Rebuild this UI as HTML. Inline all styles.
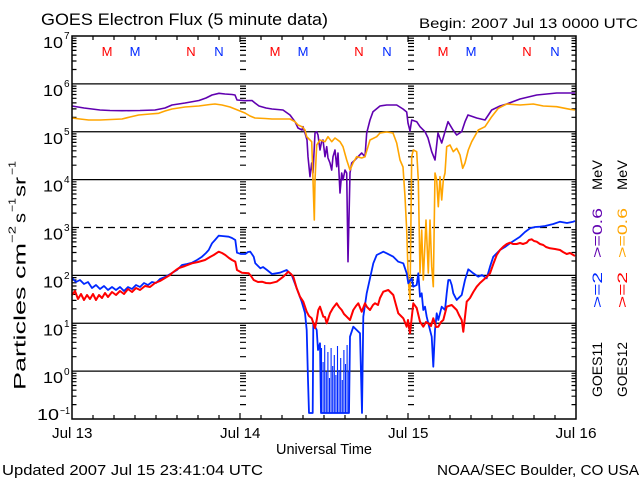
<!DOCTYPE html>
<html><head><meta charset="utf-8"><style>
html,body{margin:0;padding:0;background:#fff;}
svg{display:block;}
text{font-family:"Liberation Sans",sans-serif;fill:#000;}
</style></head><body>
<svg width="640" height="480" viewBox="0 0 640 480" xmlns="http://www.w3.org/2000/svg">
<defs>
<path id="mt" d="M0 404.6h1M0 396.2h1M0 390.2h1M0 385.5h1M0 381.7h1M0 378.5h1M0 375.8h1M0 373.3h1M0 356.7h1M0 348.3h1M0 342.3h1M0 337.7h1M0 333.9h1M0 330.7h1M0 327.9h1M0 325.4h1M0 308.8h1M0 300.4h1M0 294.4h1M0 289.8h1M0 286h1M0 282.8h1M0 280h1M0 277.6h1M0 261h1M0 252.5h1M0 246.6h1M0 241.9h1M0 238.1h1M0 234.9h1M0 232.1h1M0 229.7h1M0 213.1h1M0 204.7h1M0 198.7h1M0 194h1M0 190.2h1M0 187h1M0 184.3h1M0 181.8h1M0 165.2h1M0 156.8h1M0 150.8h1M0 146.2h1M0 142.4h1M0 139.2h1M0 136.4h1M0 133.9h1M0 117.3h1M0 108.9h1M0 102.9h1M0 98.3h1M0 94.5h1M0 91.3h1M0 88.5h1M0 86.1h1M0 69.5h1M0 61h1M0 55.1h1M0 50.4h1M0 46.6h1M0 43.4h1M0 40.6h1M0 38.2h1" stroke="#000" stroke-width="1.2" fill="none"/>
</defs>
<rect width="640" height="480" fill="#fff"/>

<!-- titles -->
<text x="41" y="25" font-size="17" textLength="287" lengthAdjust="spacingAndGlyphs">GOES Electron Flux (5 minute data)</text>
<text x="419" y="28" font-size="14" textLength="219" lengthAdjust="spacingAndGlyphs">Begin: 2007 Jul 13 0000 UTC</text>

<!-- grid lines -->
<g stroke="#000" stroke-width="1.3" fill="none">
<path d="M72 83.9H576M72 131.75H576M72 179.6H576M72 275.4H576M72 323.25H576M72 371.1H576"/>
<path d="M72 227.5H576" stroke-dasharray="7 5"/>
</g>

<!-- minor ticks -->
<use href="#mt" transform="translate(72,0) scale(4.5,1)"/>
<use href="#mt" transform="translate(571.5,0) scale(4.5,1)"/>
<use href="#mt" transform="translate(240,0) scale(6,1)"/>
<use href="#mt" transform="translate(408,0) scale(6,1)"/>

<g stroke="#000" stroke-width="1.2" fill="none">
<path d="M93 36v4M114 36v4M135 36v4M156 36v4M177 36v4M198 36v4M219 36v4M261 36v4M282 36v4M303 36v4M324 36v4M345 36v4M366 36v4M387 36v4M429 36v4M450 36v4M471 36v4M492 36v4M513 36v4M534 36v4M555 36v4"/>
<path d="M93 419v-4M114 419v-4M135 419v-4M156 419v-4M177 419v-4M198 419v-4M219 419v-4M261 419v-4M282 419v-4M303 419v-4M324 419v-4M345 419v-4M366 419v-4M387 419v-4M429 419v-4M450 419v-4M471 419v-4M492 419v-4M513 419v-4M534 419v-4M555 419v-4"/>
<path d="M240 36v6M240 419v-6M408 36v6M408 419v-6"/>
</g>

<!-- M / N markers -->
<g font-size="13" text-anchor="middle">
<text x="107" y="56" style="fill:#ff0000">M</text>
<text x="135" y="56" style="fill:#0028ff">M</text>
<text x="191" y="56" style="fill:#ff0000">N</text>
<text x="219" y="56" style="fill:#0028ff">N</text>
<text x="275" y="56" style="fill:#ff0000">M</text>
<text x="303" y="56" style="fill:#0028ff">M</text>
<text x="359" y="56" style="fill:#ff0000">N</text>
<text x="387" y="56" style="fill:#0028ff">N</text>
<text x="443" y="56" style="fill:#ff0000">M</text>
<text x="471" y="56" style="fill:#0028ff">M</text>
<text x="527" y="56" style="fill:#ff0000">N</text>
<text x="555" y="56" style="fill:#0028ff">N</text>
</g>

<!-- data -->
<g fill="none" stroke-linejoin="round">
<polyline stroke="#6000b0" stroke-width="1.6" points="72,106 78,107 84,108 92,109 100,110 110,110.5 122,110.7 140,110.5 155,110 165,108 172,105 185,103 199,100.5 206,98 212,95 219,93.3 225,94 232,94.5 235,95 237,100 245,100.7 252,100.5 255,103 259,106 266,108 272,109 283,110 290,115 295,121.7 298,128 302,130 303,126.7 305,133 307,140 308,156.7 310,176.7 311.7,163 313,173 315,133 316.7,131.7 318,135 320,150 321.5,142 323,140 325,156.7 326.7,146.7 328,158 330,163 331.7,170 333,156.7 335,150 336.7,166.7 338,153 340,193 341.7,173 343,180 345,170 346.7,173 348,261.7 350,173 351.7,163 355,160 358,156.7 361.7,153 365,156.7 366.7,133 370,120 373,111.7 380,106 386.7,105 396.7,105 403,109 406.7,112 408,123 410,131 411.7,120 416.7,121.7 420,126.7 425,131.7 428,138 431.7,151.7 435,160 438,133 441.7,143 445,131.7 448,121.7 453,130 456.7,135 461.7,131.7 465,121.7 468,115 476.7,118 485,120 491.7,110 500,106 506.7,104 520,99 536.7,95 556.7,93 575,93"/>
<polyline stroke="#ffa500" stroke-width="1.6" points="72,118 80,119 88.7,120 100,120 122,119 130,117 138.7,115 150,114 158.7,113.3 165,111 172,109 185,107 198.7,106 210,104.5 215,104 222,105 230,107 235,109 240,111 245,113 250,116 255,118 265,118.5 272,119 290,119 295,121.7 298,125 302,126.7 305,130 306.7,136.7 308,138 311.7,141.7 313,180 314.3,220 315,180 316.7,145 320,140 325,141.7 328,136.7 331.7,141.7 335,138 340,141.7 343,146.7 346.7,160 350,170 353,163 356.7,156.7 361.7,158 365,156.7 368,146.7 370,140 376.7,136.7 380,133 386.7,132 393,133 396.7,143 400,160 403,167 405,196.7 406.7,230 408.3,280 410,300 411.7,156.7 413.3,150 416.7,151.7 418.3,180 420,273 421.7,230 423.3,280 426,220 428.3,273 430,220 431.7,266.7 433.3,286.7 435,173 436.7,180 438.3,206.7 440,176.7 441.7,200 443.3,180 445,173 446.7,146.7 450,145 453.3,151.7 456.7,148.3 460,155 462.7,168.3 465,163 468.3,150 471.7,141.7 478.3,130 485,126.7 491.7,116.7 498.3,108.3 506.7,104 520,105 533.3,104 543.3,106 556.7,106.7 570,109.3 575,110"/>
<polyline stroke="#0028ff" stroke-width="1.8" points="72,278 76,282 80,280 84,284 88,282 92,288 96,285 100,289 104,286 108,290 112,287 116,290 120,287 124,291 128,287 132,289 136,285 140,287 144,283 148,285 152,282 156,283 160,279 165,277 172,273 177,270 182,265 187,264 192,262.7 197,260 202,256.7 206,253 208.7,250 212,243.3 215,240 218.7,235.7 222,236 228.7,236.7 232,238 235.3,240 237,252.7 241,254 245.3,254 248,252 250.3,251.7 253.7,256.7 255.3,263.3 260.3,268.3 263,267 267,270 272,274 280,272.7 286.7,270 291.7,275 296.7,288.3 301.7,301.7 305,313 306.7,330 308,380 309,413 312.7,413 313.3,323.3 316.7,330 318,350 320,343.3 321,413 349,413 350,336.7 353.3,326.7 356.7,330 360,333.3 362,413 363.3,316.7 366.7,293.3 370,278.3 373.3,263.3 376.7,255 383.3,251.7 386.7,253.3 393.3,256.7 398.3,261.7 403.3,263.3 406.7,273.3 408.3,283.3 411.7,278.3 413.3,286.7 416.7,285 418.3,273.3 420,296.7 421.7,293.3 423.3,310 425,306.7 426.7,316.7 428.3,323.3 430,330 431.7,336.7 433.3,366.7 435,330 436.7,313.3 438.3,320 441.7,306.7 445,310 446.7,293.3 448.3,280 450,280 451.7,285 453.3,293.3 455,296.7 456.7,300 458.3,298.3 461.7,295 465,280 468.3,269.3 473.3,273.3 478.3,276.7 482,275 486.7,278.3 490,266.7 493.3,256.7 500,250 505,247 510,243.3 515,240 520,236.7 525,232 530,228.3 535,227 540,226.7 545,226 553.3,224 560,221.7 567,223 573.3,221.7 575,221"/>
<path stroke="#0028ff" stroke-width="1.1" d="M321.5 413V348M323.1 413V362M324.7 413V345M326.3 413V372M327.9 413V352M329.5 413V378M331.1 413V348M332.7 413V366M334.3 413V355M335.9 413V375M337.5 413V346M339.1 413V370M340.7 413V358M342.3 413V380M343.9 413V350M345.5 413V364M347.1 413V345M348.7 413V372"/>
<polyline stroke="#ff0000" stroke-width="2" points="72,295 75,291 78,299 81,294 84,300 87,295 90,299 93,294 96,300 99,295 102,298 105,293 108,297 112,292 116,295 120,291 124,294 128,289 132,292 136,288 140,290 145,286 150,287 155,283 160,281 165,278 170,275 172,273 176,270 179,268 185,266 192,263.3 198,262 205,260 210,257 213.7,255 218.7,251.7 222,253 225.3,255 229,258 232,260 235.3,261.7 237,270 242,272.7 248.7,273.3 251,276 253.7,280 258,282 262,281.7 266,283 270,283.3 276.7,281.7 283.3,276.7 288.3,271.7 291,274 293.3,276.7 296.7,288.3 300,296.7 303.3,301.7 306.7,311.7 309,316 311.7,318.3 313,322 315,328 316.7,320 318.3,310 320,306.7 323.3,316.7 325,317 326.7,323.3 330,313.3 333,308 336.7,303.3 339,307 341.7,310 344,314 346.7,316.7 350,320 353.3,310 356,306 358.3,303.3 361.7,311.7 365,303.3 367,307 370,310 373,305 375,303.3 378,305 380,298 383.3,291.7 388.3,290 393.3,295 396,305 398.3,313.3 401,316 403.3,318.3 406.7,326.7 408,320 410,333.3 413.3,303.3 416.7,308 420,321.7 423.3,326.7 426,322 428.3,323.3 431,326 433.3,318.3 436,327 438.3,326.7 441,322 443.3,320 446.7,306.7 451.7,305 456.7,310 459,315 461.7,320 463.3,331.7 466.7,301.7 470,298 473.3,292 476.7,286.7 480,283 483.3,280 486.7,277 490,273.3 493.3,264 496.7,255 500,250 503.3,246.7 506.7,244 510,242.7 513,244 516.7,244 520,243 523,244 526.7,242.7 529,240 531.7,239.3 534,241 536.7,241.7 540,244 543.3,245 546,247 550,248.3 555,249 560,250 563,252 566.7,254 570,253 573.3,255 575,256"/>
</g>

<!-- frame -->
<rect x="72" y="36" width="504" height="383" fill="none" stroke="#000" stroke-width="1.5"/>

<!-- y labels -->
<g font-size="16">
<text x="43" y="48" textLength="20" lengthAdjust="spacingAndGlyphs">10</text>
<text x="43" y="95.9" textLength="20" lengthAdjust="spacingAndGlyphs">10</text>
<text x="43" y="143.75" textLength="20" lengthAdjust="spacingAndGlyphs">10</text>
<text x="43" y="191.6" textLength="20" lengthAdjust="spacingAndGlyphs">10</text>
<text x="43" y="239.5" textLength="20" lengthAdjust="spacingAndGlyphs">10</text>
<text x="43" y="287.4" textLength="20" lengthAdjust="spacingAndGlyphs">10</text>
<text x="43" y="335.25" textLength="20" lengthAdjust="spacingAndGlyphs">10</text>
<text x="43" y="383.1" textLength="20" lengthAdjust="spacingAndGlyphs">10</text>
<text x="37" y="420" textLength="22" lengthAdjust="spacingAndGlyphs">10</text>
</g>
<g font-size="10">
<text x="64" y="39">7</text>
<text x="64" y="87">6</text>
<text x="64" y="135">5</text>
<text x="64" y="183">4</text>
<text x="64" y="231">3</text>
<text x="64" y="279">2</text>
<text x="64" y="327">1</text>
<text x="64" y="375">0</text>
<text x="60" y="414" textLength="10" lengthAdjust="spacingAndGlyphs">−1</text>
</g>

<!-- y axis title -->
<text transform="translate(25.5,390) rotate(-90)" font-size="17" textLength="147" lengthAdjust="spacingAndGlyphs">Particles cm</text>
<text transform="translate(15.5,243) rotate(-90)" font-size="10" textLength="17" lengthAdjust="spacingAndGlyphs">−2</text>
<text transform="translate(25.5,223) rotate(-90)" font-size="17" textLength="10" lengthAdjust="spacingAndGlyphs">s</text>
<text transform="translate(15.5,212) rotate(-90)" font-size="10" textLength="14" lengthAdjust="spacingAndGlyphs">−1</text>
<text transform="translate(25.5,197) rotate(-90)" font-size="17" textLength="20" lengthAdjust="spacingAndGlyphs">sr</text>
<text transform="translate(15.5,175) rotate(-90)" font-size="10" textLength="14" lengthAdjust="spacingAndGlyphs">−1</text>

<!-- right labels -->
<g font-size="14">
<text transform="translate(602,397) rotate(-90)" textLength="55" lengthAdjust="spacingAndGlyphs">GOES11</text>
<text transform="translate(602,308) rotate(-90)" textLength="36" lengthAdjust="spacingAndGlyphs" style="fill:#0028ff">&gt;=2</text>
<text transform="translate(602,258) rotate(-90)" textLength="50" lengthAdjust="spacingAndGlyphs" style="fill:#6000b0">&gt;=0.6</text>
<text transform="translate(602,190) rotate(-90)" textLength="30" lengthAdjust="spacingAndGlyphs">MeV</text>
<text transform="translate(627,397) rotate(-90)" textLength="55" lengthAdjust="spacingAndGlyphs">GOES12</text>
<text transform="translate(627,308) rotate(-90)" textLength="36" lengthAdjust="spacingAndGlyphs" style="fill:#ff0000">&gt;=2</text>
<text transform="translate(627,258) rotate(-90)" textLength="50" lengthAdjust="spacingAndGlyphs" style="fill:#ffa500">&gt;=0.6</text>
<text transform="translate(627,190) rotate(-90)" textLength="30" lengthAdjust="spacingAndGlyphs">MeV</text>
</g>

<!-- x labels -->
<g font-size="14.5">
<text x="52" y="438" textLength="40.5" lengthAdjust="spacingAndGlyphs">Jul 13</text>
<text x="220" y="438" textLength="40.5" lengthAdjust="spacingAndGlyphs">Jul 14</text>
<text x="388" y="438" textLength="40.5" lengthAdjust="spacingAndGlyphs">Jul 15</text>
<text x="555.5" y="438" textLength="41" lengthAdjust="spacingAndGlyphs">Jul 16</text>
<text x="276" y="454" textLength="96" lengthAdjust="spacingAndGlyphs">Universal Time</text>
</g>
<text x="2" y="475" font-size="15" textLength="261" lengthAdjust="spacingAndGlyphs">Updated 2007 Jul 15 23:41:04 UTC</text>
<text x="437" y="475" font-size="15" textLength="202" lengthAdjust="spacingAndGlyphs">NOAA/SEC Boulder, CO USA</text>
</svg>
</body></html>
